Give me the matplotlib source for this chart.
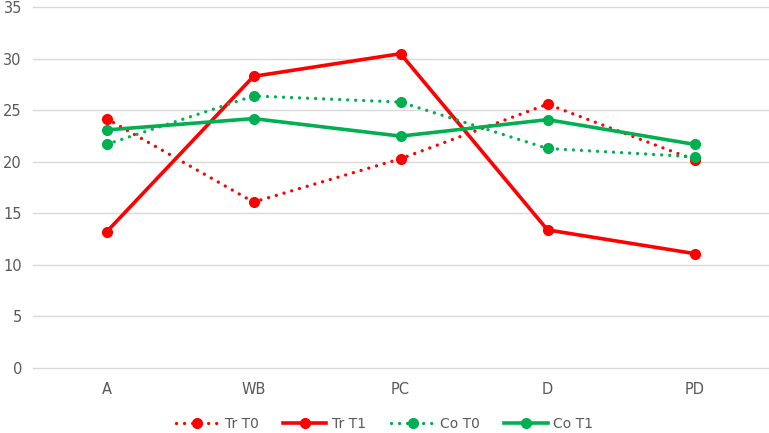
import numpy as np
import matplotlib.pyplot as plt

# Категории и значения серий
categories = ['A', 'WB', 'PC', 'D', 'PD']
tr_t0 = [24.2, 16.1, 20.3, 25.6, 20.2]
tr_t1 = [13.2, 28.3, 30.5, 13.4, 11.1]
co_t0 = [21.7, 26.4, 25.8, 21.3, 20.5]
co_t1 = [23.1, 24.2, 22.5, 24.1, 21.7]

red = '#FF0000'
green = '#00B050'
dots = (0, (0.01, 2.4))

fig = plt.figure(figsize=(7.69, 4.33), dpi=100)
ax = fig.add_axes([33 / 769, 65 / 433, 735 / 769, (368 - 7.3) / 433])

x = np.arange(len(categories))
ax.plot(x, tr_t0, color=red, lw=2.4, ls=dots, dash_capstyle='round',
        marker='o', ms=7, label='Tr T0')
ax.plot(x, tr_t1, color=red, lw=2.6, marker='o', ms=7, label='Tr T1')
ax.plot(x, co_t0, color=green, lw=2.4, ls=dots, dash_capstyle='round',
        marker='o', ms=7, label='Co T0')
ax.plot(x, co_t1, color=green, lw=2.6, marker='o', ms=7, label='Co T1')

# Оси и сетка
ax.set_xlim(-0.5, len(categories) - 0.5)
ax.set_ylim(0, 35)
ax.set_yticks(range(0, 36, 5))
ax.set_xticks(x)
ax.set_xticklabels(categories)
ax.grid(axis='y', color='#D9D9D9', lw=1)
for gl in ax.get_ygridlines():
    gl.set_clip_on(False)
ax.set_axisbelow(True)
for s in ax.spines.values():
    s.set_visible(False)
ax.tick_params(length=0, colors='#595959', labelsize=10.5)
ax.tick_params(axis='x', pad=10)
ax.tick_params(axis='y', pad=8)

leg = fig.legend(loc='center', bbox_to_anchor=(0.5, 9 / 433), ncol=4, frameon=False,
                 fontsize=10, handlelength=3.1, columnspacing=1.8, handletextpad=0.4)
for t in leg.get_texts():
    t.set_color('#595959')

fig.savefig('out.png', dpi=100)
